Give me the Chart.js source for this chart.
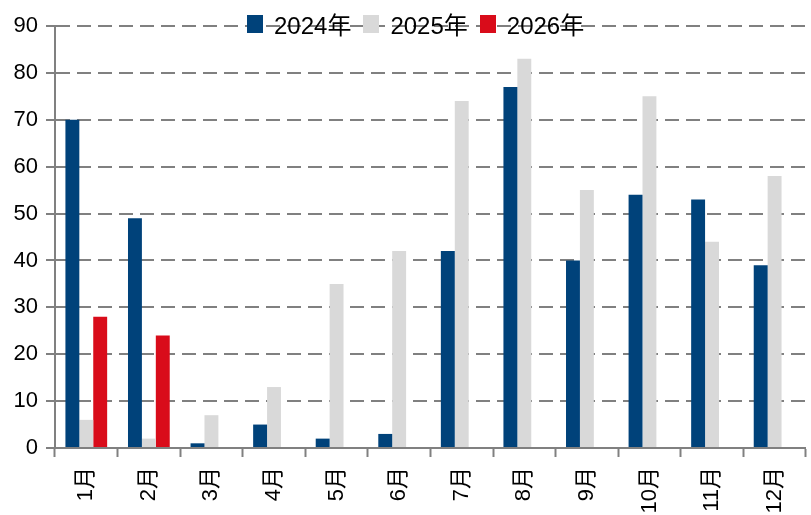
<!DOCTYPE html>
<html>
<head>
<meta charset="utf-8">
<script src="https://cdn.jsdelivr.net/npm/chart.js@4"></script>
<style>
  html, body { margin: 0; padding: 0; background: #fff; }
  #wrap { position: relative; width: 811px; height: 515px; }
  #legend { position: absolute; top: 6px; left: 247px; display: flex; align-items: center;
            font-family: "Liberation Sans", Arial, "Noto Sans CJK SC", sans-serif;
            font-size: 24px; color: #000; background: transparent; }
  #legend span.box { display: inline-block; width: 16px; height: 18px; margin-right: 11px; }
  #legend span.item { display: flex; align-items: center; margin-right: 12px; }
</style>
</head>
<body>
<div id="wrap">
  <canvas id="bar-chart" width="811" height="515"></canvas>
  <div id="legend"></div>
</div>
<script>
"use strict";

//////// DATA ////////
const months = ['1月', '2月', '3月', '4月', '5月', '6月', '7月', '8月', '9月', '10月', '11月', '12月'];
const values_2024 = [70, 49, 1, 5, 2, 3, 42, 77, 40, 54, 53, 39];
const values_2025 = [6, 2, 7, 13, 35, 42, 74, 83, 55, 75, 44, 58];
const values_2026 = [28, 24, null, null, null, null, null, null, null, null, null, null];
const series_names = ['2024年', '2025年', '2026年'];
const y_ticks = [0, 10, 20, 30, 40, 50, 60, 70, 80, 90];

const colors = ['#00427a', '#d9d9d9', '#d90c1a'];
const axis_grey = '#808080';
const tick_font = {family: '"Liberation Sans", Arial, "Noto Sans CJK SC", sans-serif', size: 22};
const x_font = {family: '"Liberation Sans", Arial, "Noto Sans CJK SC", sans-serif', size: 22};

const bar_data = {
  labels: months,
  datasets: [values_2024, values_2025, values_2026].map((vals, i) => ({
    label: series_names[i],
    data: vals,
    backgroundColor: colors[i],
    borderWidth: 0,
    categoryPercentage: 0.667,
    barPercentage: 1.0
  }))
};

const bar_ctx = document.getElementById('bar-chart').getContext('2d');
const bar_chart = new Chart(bar_ctx, {
  type: 'bar',
  data: bar_data,
  options: {
    responsive: false,
    animation: false,
    layout: {
      padding: {top: 26, right: 0, left: 0, bottom: 0}
    },
    scales: {
      x: {
        offset: true,
        grid: {
          offset: true,
          drawOnChartArea: false,
          drawTicks: true,
          tickLength: 9,
          tickColor: axis_grey,
          tickWidth: 2
        },
        border: {color: axis_grey, width: 2},
        ticks: {
          color: '#000',
          font: x_font,
          minRotation: 90,
          maxRotation: 90,
          padding: 10
        },
        afterFit: function(scale) { scale.height = 67; }
      },
      y: {
        min: 0,
        max: 90,
        afterBuildTicks: function(scale) {
          scale.ticks = y_ticks.map(v => ({value: v}));
        },
        grid: {
          color: axis_grey,
          lineWidth: 2,
          tickBorderDash: [],
          tickLength: 9,
          tickColor: axis_grey,
          tickWidth: 2
        },
        border: {color: axis_grey, width: 2, dash: [14, 7]},
        ticks: {
          color: '#000',
          font: tick_font,
          padding: 8
        },
        afterFit: function(scale) { scale.width = 55; }
      }
    },
    plugins: {
      legend: {display: false},
      tooltip: {enabled: false}
    }
  }
});

// Legend as html
const legend_node = document.getElementById('legend');
series_names.forEach((name, i) => {
  const item = document.createElement('span');
  item.className = 'item';
  const box = document.createElement('span');
  box.className = 'box';
  box.style.background = colors[i];
  const label = document.createElement('span');
  label.textContent = name;
  item.appendChild(box);
  item.appendChild(label);
  legend_node.appendChild(item);
});
</script>
</body>
</html>
